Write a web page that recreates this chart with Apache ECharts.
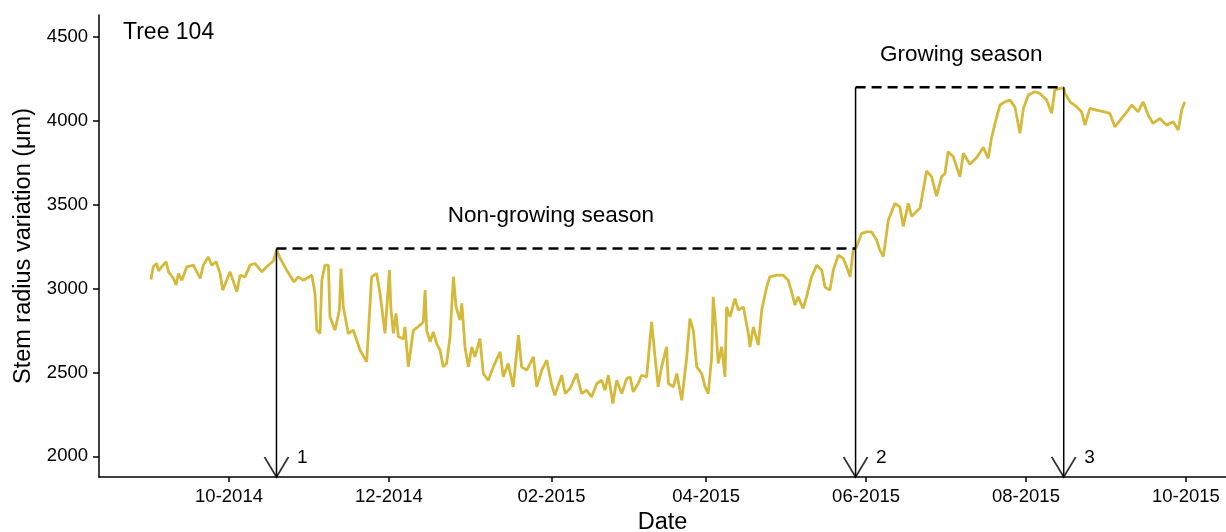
<!DOCTYPE html>
<html>
<head>
<meta charset="utf-8">
<title>Tree 104</title>
<script src="https://cdn.jsdelivr.net/npm/echarts@6/dist/echarts.min.js"></script>
<style>
  html, body { margin: 0; padding: 0; background: #fff; }
  #chart { width: 1226px; height: 532px; }
</style>
</head>
<body>
<div id="chart"></div>
<script>
// days counted from 2014-09-01
var dayIndex = [
  0.2, 1.1, 2.4, 3.1, 4.3, 6.0, 6.9, 8.8, 9.8, 10.7, 12.0, 13.9, 16.4, 19.0, 20.2, 22.1, 23.4, 25.1, 26.6, 27.6,
  29.1, 30.4, 33.0, 34.2, 36.1, 38.0, 39.9, 42.5, 44.4, 46.9, 48.2, 49.5, 52.0, 54.8, 56.4, 58.4, 61.6, 62.8, 63.5, 64.7,
  65.4, 66.6, 67.9, 68.5, 70.4, 72.1, 72.7, 73.6, 75.5, 77.4, 80.0, 82.5, 84.4, 86.3, 87.6, 89.5, 91.2, 91.7, 92.7, 93.7,
  94.6, 96.5, 97.1, 98.4, 100.3, 102.9, 104.1, 104.8, 105.4, 106.7, 107.9, 109.2, 110.5, 111.7, 113.0, 114.3, 115.6, 116.6, 118.1, 118.8,
  120.0, 121.3, 122.6, 123.8, 125.7, 127.0, 128.9, 130.8, 133.4, 134.6, 136.5, 138.4, 140.4, 141.6, 143.6, 146.1, 147.4, 149.3, 151.2, 153.1,
  154.3, 156.9, 158.2, 160.1, 162.6, 164.5, 166.4, 168.3, 170.3, 172.2, 173.4, 174.7, 176.4, 177.9, 179.8, 181.7, 183.0, 184.2, 186.1, 187.4,
  189.3, 191.2, 192.5, 193.7, 195.0, 196.9, 197.6, 199.5, 200.8, 202.7, 204.6, 205.8, 207.1, 208.4, 210.3, 211.6, 212.8, 214.1, 214.7, 215.8,
  216.6, 217.9, 219.2, 219.8, 221.1, 223.0, 224.3, 226.2, 228.1, 228.7, 230.0, 231.9, 233.2, 235.1, 236.3, 238.9, 241.4, 243.3, 244.6, 245.9,
  247.1, 249.0, 250.3, 252.2, 254.2, 256.1, 257.3, 259.2, 260.5, 262.4, 264.3, 265.6, 266.9, 268.1, 269.4, 271.3, 273.2, 275.1, 277.0, 278.3,
  279.6, 281.5, 284.0, 285.9, 287.2, 289.1, 290.4, 293.6, 296.1, 298.0, 299.9, 301.8, 303.1, 304.3, 306.3, 308.8, 310.1, 312.6, 315.2, 317.7,
  319.6, 320.9, 322.2, 324.1, 326.0, 327.9, 329.8, 331.7, 333.0, 334.9, 337.4, 339.3, 341.9, 343.8, 345.0, 347.0, 348.4, 348.9, 350.8, 353.3,
  355.2, 356.5, 358.4, 360.9, 363.5, 366.0, 367.9, 370.5, 373.0, 374.3, 376.8, 378.7, 380.6, 382.5, 385.1, 387.6, 390.2, 392.1, 393.4, 394.6
];
var radius = [
  3054, 3129, 3149, 3105, 3129, 3159, 3099, 3060, 3020, 3089, 3049, 3129, 3139, 3060, 3139, 3188, 3139, 3159, 3089, 2990,
  3049, 3099, 2980, 3079, 3069, 3139, 3149, 3099, 3129, 3164, 3230, 3179, 3109, 3039, 3069, 3049, 3079, 2970, 2751, 2732,
  3049, 3139, 3139, 2831, 2751, 2871, 3119, 2890, 2732, 2751, 2632, 2563, 3069, 3089, 2970, 2732, 3109, 2890, 2732, 2851,
  2712, 2700, 2771, 2533, 2751, 2781, 2801, 2990, 2751, 2682, 2741, 2672, 2632, 2533, 2553, 2712, 3069, 2890, 2811, 2911,
  2652, 2533, 2652, 2592, 2702, 2493, 2453, 2533, 2622, 2473, 2553, 2414, 2722, 2533, 2513, 2592, 2414, 2513, 2573, 2424,
  2364, 2483, 2374, 2404, 2493, 2374, 2394, 2354, 2434, 2453, 2394, 2483, 2315, 2453, 2374, 2464, 2473, 2384, 2434, 2483,
  2473, 2801, 2592, 2414, 2533, 2652, 2434, 2414, 2493, 2334, 2592, 2821, 2751, 2533, 2493, 2414, 2374, 2592, 2950, 2751,
  2553, 2652, 2473, 2890, 2831, 2940, 2871, 2890, 2732, 2652, 2771, 2662, 2871, 3010, 3069, 3079, 3079, 3049, 2980, 2901,
  2950, 2881, 2950, 3069, 3139, 3109, 3010, 2990, 3109, 3198, 3179, 3129, 3069, 3228, 3250, 3328, 3337, 3337, 3290, 3228,
  3190, 3407, 3507, 3486, 3370, 3507, 3430, 3480, 3700, 3665, 3550, 3665, 3685, 3814, 3784, 3665, 3805, 3740, 3780, 3840,
  3775, 3900, 3983, 4093, 4112, 4122, 4080, 3924, 4070, 4152, 4172, 4162, 4122, 4043, 4182, 4192, 4195, 4162, 4112, 4083,
  4053, 3973, 4073, 4063, 4053, 4043, 3963, 4013, 4063, 4093, 4053, 4112, 4033, 3983, 4013, 3973, 3993, 3944, 4063, 4112
];

var monthTicks = [30, 91, 153, 212, 273, 334, 395];
var monthLabels = ['10-2014', '12-2014', '02-2015', '04-2015', '06-2015', '08-2015', '10-2015'];
var radiusTicks = [2000, 2500, 3000, 3500, 4000, 4500];

// season breaks 1, 2, 3 and the dashed season levels
var breakDays = [48.1, 269.0, 348.4];
var breakTops = [3238, 4199, 4199];
var breakNames = ['1', '2', '3'];
var seasonNames = ['Non-growing season', 'Growing season'];
var seasonLevels = [3238, 4199];
var seasonTextDay = [152.8, 309.3];
var seasonTextValue = [3431, 4392];

var xMin = -19.6, xMax = 410.3;
var yMin = 1877, yMax = 4629;

var FONT = 'Liberation Sans, Arial, sans-serif';

var chart = echarts.init(document.getElementById('chart'));

var lineData = [];
for (var i = 0; i < dayIndex.length; i++) {
  lineData.push([dayIndex[i], radius[i]]);
}

var series = [{
  name: 'Tree 104',
  type: 'line',
  data: lineData,
  showSymbol: false,
  lineStyle: { color: '#d5b93a', width: 2.8 },
  z: 2
}];

// vertical lines down to the axis
for (var b = 0; b < breakDays.length; b++) {
  series.push({
    type: 'line',
    data: [[breakDays[b], breakTops[b]], [breakDays[b], yMin]],
    showSymbol: false,
    lineStyle: { color: '#000', width: 1.5 },
    z: 3
  });
}
// dashed season levels
series.push({
  type: 'line',
  data: [[breakDays[0], seasonLevels[0]], [breakDays[1], seasonLevels[0]]],
  showSymbol: false,
  lineStyle: { color: '#000', width: 2.5, type: [10, 6] },
  z: 3
});
series.push({
  type: 'line',
  data: [[breakDays[1], seasonLevels[1]], [breakDays[2], seasonLevels[1]]],
  showSymbol: false,
  lineStyle: { color: '#000', width: 2.5, type: [10, 6] },
  z: 3
});

// open arrow heads
series.push({
  type: 'scatter',
  data: breakDays.map(function (d) { return [d, yMin]; }),
  symbol: 'path://M0,0L12,20L24,0',
  symbolSize: [24, 20],
  symbolOffset: [0, -10],
  itemStyle: { color: 'rgba(0,0,0,0)', borderColor: '#000', borderWidth: 1.8 },
  clip: false,
  z: 4
});

var textLabel = { show: true, formatter: '{b}', color: '#000', fontFamily: FONT, textBorderWidth: 0, opacity: 1 };

// 1 2 3
series.push({
  type: 'scatter',
  data: breakDays.map(function (d, k) { return { value: [d, 1993], name: breakNames[k] }; }),
  symbolSize: 1,
  itemStyle: { color: 'rgba(0,0,0,0)' },
  label: Object.assign({}, textLabel, { position: 'right', distance: 20, fontSize: 19 }),
  clip: false,
  z: 4
});

// season names
series.push({
  type: 'scatter',
  data: seasonNames.map(function (s, k) { return { value: [seasonTextDay[k], seasonTextValue[k]], name: s }; }),
  symbolSize: 1,
  itemStyle: { color: 'rgba(0,0,0,0)' },
  label: Object.assign({}, textLabel, { position: 'inside', fontSize: 22.5 }),
  z: 4
});

var option = {
  animation: false,
  backgroundColor: '#fff',
  textStyle: { fontFamily: FONT },
  grid: { left: 99, right: 0, top: 15, bottom: 55, containLabel: false, outerBoundsMode: 'none' },
  graphic: [{
    type: 'text', left: 123, top: 21,
    style: { text: 'Tree 104', font: '23px ' + FONT, fill: '#000' }
  }],
  xAxis: {
    type: 'value',
    min: xMin, max: xMax,
    name: 'Date',
    nameLocation: 'middle',
    nameGap: 32,
    nameTextStyle: { color: '#000', fontSize: 23.5, fontFamily: FONT },
    axisLine: { onZero: false, lineStyle: { color: '#000', width: 1.5 } },
    axisTick: { show: true, length: 5, lineStyle: { color: '#000', width: 1.5 }, customValues: monthTicks },
    axisLabel: {
      color: '#000', fontSize: 18.5, fontFamily: FONT, margin: 10,
      customValues: monthTicks,
      formatter: function (v) {
        var k = monthTicks.indexOf(v);
        return k >= 0 ? monthLabels[k] : '';
      }
    },
    splitLine: { show: false }
  },
  yAxis: {
    type: 'value',
    min: yMin, max: yMax,
    name: 'Stem radius variation (\u03bcm)',
    nameLocation: 'middle',
    nameGap: 62,
    nameTextStyle: { color: '#000', fontSize: 23.5, fontFamily: FONT },
    axisLine: { show: true, onZero: false, lineStyle: { color: '#000', width: 1.5 } },
    axisTick: { show: true, length: 6, lineStyle: { color: '#000', width: 1.5 }, customValues: radiusTicks },
    axisLabel: {
      color: '#000', fontSize: 18.5, fontFamily: FONT, margin: 11, customValues: radiusTicks,
      formatter: function (v) { return String(v); }
    },
    splitLine: { show: false }
  },
  series: series
};

chart.setOption(option);
</script>
</body>
</html>
